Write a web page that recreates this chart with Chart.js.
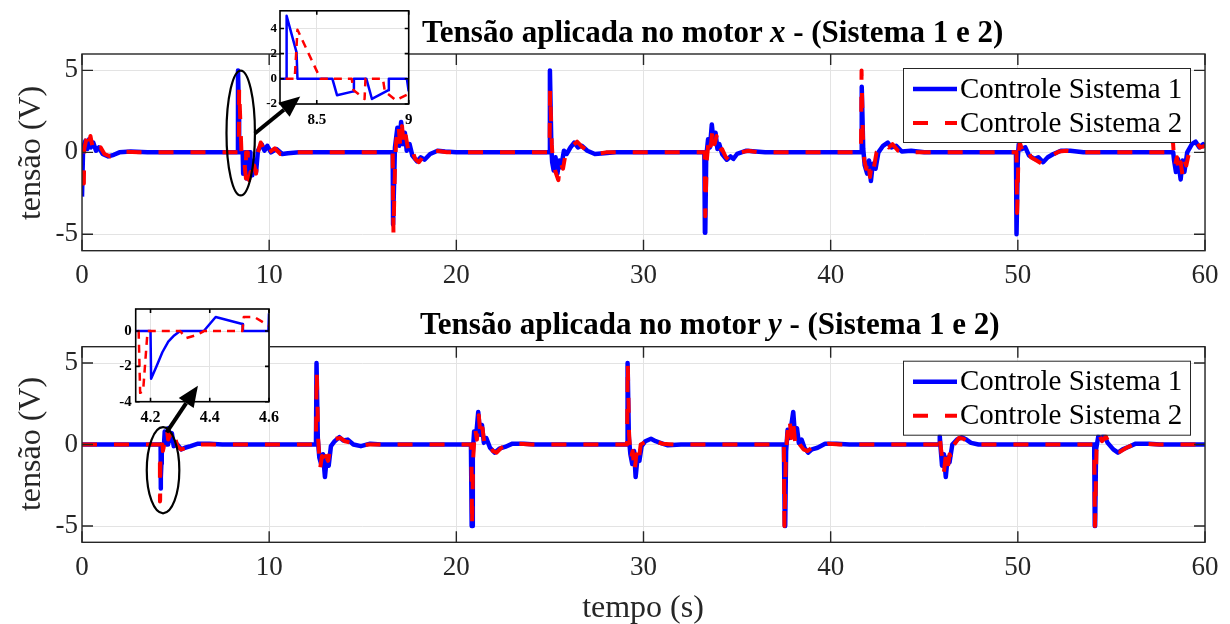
<!DOCTYPE html>
<html>
<head>
<meta charset="utf-8">
<script src="https://cdn.jsdelivr.net/npm/chart.js@4.4.0/dist/chart.umd.min.js"></script>
<style>
body { margin: 0; width: 1230px; height: 624px; background: #fff; position: relative; overflow: hidden;
       font-family: 'Liberation Serif', 'Times New Roman', serif; }
canvas { position: absolute; }
.title { position: absolute; font-weight: bold; font-size: 31px; line-height: 1; white-space: nowrap; color: #000; }
.ylab, .xlab { position: absolute; font-size: 32px; line-height: 1; white-space: nowrap; color: #262626; }
.ylab { transform: translate(-50%, -50%) rotate(-90deg); }
.xlab { transform: translate(-50%, -50%); }
</style>
</head>
<body>
<canvas id="topChart" width="1230" height="292" style="left:0;top:0"></canvas>
<canvas id="bottomChart" width="1230" height="332" style="left:0;top:292px"></canvas>
<canvas id="topZoom" width="186" height="136" style="left:236px;top:0"></canvas>
<canvas id="bottomZoom" width="194" height="136" style="left:92px;top:296px"></canvas>
<canvas id="arrows" width="1230" height="624" style="left:0;top:0;pointer-events:none"></canvas>

<div class="title" style="left:422px;top:16px">Tensão aplicada no motor <i>x</i> - (Sistema 1 e 2)</div>
<div class="title" style="left:420px;top:308px">Tensão aplicada no motor <i>y</i> - (Sistema 1 e 2)</div>
<div class="ylab" style="left:29px;top:153px">tensão (V)</div>
<div class="ylab" style="left:29px;top:444px">tensão (V)</div>
<div class="xlab" style="left:643px;top:606px">tempo (s)</div>

<script>
// tick values
const timeTicks = [0, 10, 20, 30, 40, 50, 60];
const voltTicks = [-5, 0, 5];
const zoomXTimeTicks = [8.5, 9];
const zoomXVoltTicks = [-2, 0, 2, 4];
const zoomYTimeTicks = [4.2, 4.4, 4.6];
const zoomYVoltTicks = [-4, -2, 0];
const seriesLabels = ['Controle Sistema 1', 'Controle Sistema 2'];

// motor x, system 1 control voltage [t (s), u (V)]
const motorX1 = [
  [0, -2.7], [0.04, -2.7], [0.06, 0.3], [0.18, 0.7], [0.28, 0.2], [0.38, 0.8], [0.48, 0.3], [0.6, 0.6], [0.75, 0.1],
  [0.9, 0.3], [1.1, -0.1], [1.4, -0.25], [1.7, -0.15], [2.0, 0], [2.6, 0.05], [3.5, 0],
  [8.333, 0], [8.336, 5], [8.39, 2.1], [8.395, 0], [8.585, 0], [8.61, -1.3], [8.70, -1.0], [8.702, 0], [8.77, 0],
  [8.80, -1.6], [8.89, -0.9], [8.892, 0], [8.99, 0], [9.0, -1.0], [9.1, -1.4], [9.2, -0.5], [9.3, -1.2], [9.4, 0.1],
  [9.6, 0.5], [9.75, 0.1], [9.9, 0.4], [10.1, 0], [10.4, 0.2], [10.7, -0.1], [11.0, -0.05], [11.6, 0],
  [16.6, 0], [16.62, -4.4], [16.66, -4.4], [16.72, 0.3], [16.85, 1.5], [16.95, 0.4], [17.05, 1.85], [17.15, 0.5],
  [17.25, 1.2], [17.35, 0.1], [17.5, 0.5], [17.65, -0.2], [17.9, -0.55], [18.1, -0.3], [18.3, -0.45], [18.6, -0.1],
  [19.0, 0.1], [19.4, 0.05], [20, 0],
  [24.98, 0], [25.0, 5.0], [25.08, 0.2], [25.12, -0.6], [25.2, -1.1], [25.3, -0.3], [25.4, -1.3], [25.5, -0.5],
  [25.6, -0.9], [25.75, 0.1], [25.9, -0.1], [26.1, 0.3], [26.3, 0.6], [26.5, 0.3], [26.7, 0.4], [27.0, 0.1],
  [27.4, -0.1], [27.9, -0.05], [28.5, 0],
  [33.25, 0], [33.28, -4.9], [33.3, -4.9], [33.35, -0.3], [33.45, 0.8], [33.55, 0.3], [33.65, 1.7], [33.75, 0.6],
  [33.85, 1.2], [33.95, 0.2], [34.05, 0.5], [34.2, -0.1], [34.45, -0.45], [34.65, -0.25], [34.8, -0.4], [35.0, -0.1],
  [35.5, 0.1], [36, 0.05], [36.5, 0],
  [41.63, 0], [41.66, 4.0], [41.74, 0.2], [41.82, -0.8], [41.95, -1.3], [42.05, -0.5], [42.15, -1.75], [42.25, -0.7],
  [42.4, -1.0], [42.55, 0], [42.8, 0.4], [43.05, 0.6], [43.25, 0.3], [43.5, 0.4], [43.8, 0.05], [44.3, 0.1], [45, 0],
  [49.9, 0], [49.93, -5.0], [49.95, -5.0], [50.0, -0.3], [50.05, 0.5], [50.2, 0.2], [50.4, 0.3], [50.6, -0.2],
  [50.9, -0.4], [51.1, -0.3], [51.35, -0.6], [51.6, -0.3], [51.9, -0.1], [52.3, 0.1], [52.8, 0.1], [53.5, 0],
  [58.3, 0], [58.35, -0.5], [58.45, -1.2], [58.55, -0.4], [58.7, -1.65], [58.8, -0.5], [58.9, -1.2], [59.05, 0],
  [59.3, 0.5], [59.5, 0.65], [59.7, 0.3], [59.9, 0.5], [60, 0.3]
];

// motor x, system 2
const motorX2 = [
  [0, -1.9], [0.1, -1.9], [0.12, 0.2], [0.25, 0.9], [0.35, 0.3], [0.45, 1.0], [0.55, 0.4], [0.7, 0.6], [0.85, 0.1],
  [1.0, 0.3], [1.2, -0.1], [1.5, -0.25], [1.8, -0.1], [2.2, 0.05], [3, 0],
  [8.38, 0], [8.395, 3.9], [8.52, 0], [8.69, 0], [8.70, -0.9], [8.76, -1.6], [8.765, 0], [8.86, 0], [8.87, -1.0],
  [8.93, -1.7], [9.0, -1.2], [9.1, -1.6], [9.2, -0.8], [9.3, -1.3], [9.4, 0], [9.55, 0.6], [9.7, 0.2], [9.85, 0.5],
  [10.0, 0], [10.3, 0.25], [10.6, -0.1], [11, 0],
  [16.6, 0], [16.64, -4.9], [16.72, -1], [16.78, 0.6], [16.9, 1.7], [17.0, 0.5], [17.1, 1.6], [17.2, 0.3], [17.3, 1.0],
  [17.45, 0], [17.6, 0.3], [17.8, -0.4], [18.0, -0.6], [18.2, -0.3], [18.5, -0.3], [18.9, 0.1], [19.5, 0],
  [24.98, 0], [25.01, 3.8], [25.1, 0.5], [25.15, -0.4], [25.3, -1.2], [25.45, -1.7], [25.55, -0.6], [25.7, -1.0],
  [25.85, 0], [26.2, 0.4], [26.45, 0.65], [26.7, 0.35], [27.0, 0.1], [27.5, -0.1], [28, 0],
  [33.27, 0], [33.3, -3.9], [33.38, -0.5], [33.5, 1.0], [33.6, 0.4], [33.7, 1.5], [33.8, 0.5], [33.9, 1.0], [34.0, 0],
  [34.2, 0.2], [34.4, -0.3], [34.6, -0.5], [34.85, -0.2], [35.2, 0], [35.6, 0.1], [36.2, 0],
  [41.62, 0], [41.65, 5.0], [41.72, 1.0], [41.8, -0.5], [41.9, -1.0], [42.0, -0.4], [42.1, -1.5], [42.2, -0.6],
  [42.3, -1.0], [42.45, 0], [42.7, 0.3], [42.9, 0.55], [43.1, 0.3], [43.3, 0.5], [43.6, 0.1], [44.0, -0.05], [44.5, 0],
  [49.93, 0], [49.96, -3.7], [50.03, -0.4], [50.1, 0.6], [50.25, 0.1], [50.45, 0.4], [50.7, -0.3], [51.0, -0.5],
  [51.3, -0.7], [51.55, -0.35], [51.8, -0.2], [52.2, 0.05], [52.6, 0.1], [53.2, 0],
  [58.25, 0], [58.28, 0.8], [58.32, 0.1], [58.4, -0.8], [58.5, -0.3], [58.6, -1.3], [58.7, -0.6], [58.8, -1.4],
  [58.9, -0.5], [59.0, -0.8], [59.15, 0], [59.35, 0.4], [59.55, 0.6], [59.75, 0.3], [60, 0.4]
];

// motor y, system 1
const motorY1 = [
  [0, 0], [4.2, 0], [4.202, -2.7], [4.22, -2.0], [4.24, -1.2], [4.26, -0.6], [4.28, -0.25], [4.30, 0], [4.38, 0],
  [4.42, 0.8], [4.51, 0.4], [4.512, 0], [4.598, 0], [4.60, 1.0], [4.7, 0.2], [4.8, 0.7], [4.9, -0.1], [5.1, 0],
  [5.3, -0.3], [5.5, -0.2], [5.8, -0.1], [6.2, 0.05], [6.8, 0.05], [7.5, 0],
  [12.5, 0], [12.53, 5.0], [12.6, 0.3], [12.68, -0.8], [12.78, -1.2], [12.88, -0.6], [12.98, -2.0], [13.08, -0.8],
  [13.18, -1.3], [13.3, -0.1], [13.5, 0.2], [13.75, 0.45], [13.95, 0.25], [14.2, 0.3], [14.5, 0], [14.9, -0.1],
  [15.4, 0.05], [16, 0],
  [20.78, 0], [20.82, -5.0], [20.84, -5.0], [20.88, -0.5], [20.95, 0.8], [21.05, 0.4], [21.17, 2.0], [21.27, 0.6],
  [21.37, 1.2], [21.47, 0.1], [21.6, 0.4], [21.8, -0.2], [22.05, -0.5], [22.3, -0.25], [22.6, -0.15], [23.0, 0.05],
  [23.6, 0.05], [24.2, 0],
  [29.12, 0], [29.15, 5.0], [29.22, 0.4], [29.3, -0.6], [29.4, -1.2], [29.5, -0.4], [29.58, -2.0], [29.68, -0.8],
  [29.78, -1.0], [29.9, -0.1], [30.1, 0.2], [30.4, 0.35], [30.65, 0.2], [30.9, 0.1], [31.3, -0.05], [32, 0],
  [37.5, 0], [37.55, -5.0], [37.57, -5.0], [37.62, -0.4], [37.7, 0.9], [37.8, 0.4], [38.0, 2.0], [38.1, 0.5],
  [38.2, 1.0], [38.3, 0.1], [38.45, 0.3], [38.6, -0.2], [38.8, -0.5], [39.0, -0.3], [39.3, -0.2], [39.7, 0.05],
  [40.3, 0.05], [41, 0],
  [45.8, 0], [45.83, 0.5], [45.88, -0.3], [45.95, -1.3], [46.05, -0.6], [46.15, -2.0], [46.25, -0.8], [46.35, -1.1],
  [46.5, 0], [46.75, 0.3], [47.0, 0.45], [47.25, 0.3], [47.5, 0.1], [47.9, 0],
  [54.08, 0], [54.11, -5.0], [54.13, -5.0], [54.18, -0.3], [54.3, 0.5], [54.47, 0.3], [54.6, 0.6], [54.8, 0.1],
  [55.1, -0.3], [55.35, -0.5], [55.6, -0.3], [55.9, -0.15], [56.3, 0.05], [57, 0.05], [57.6, 0], [60, 0]
];

// motor y, system 2
const motorY2 = [
  [0, 0], [4.16, 0], [4.165, -3.5], [4.175, -3.4], [4.19, 0], [4.30, 0], [4.32, -0.4], [4.36, -0.2], [4.38, 0],
  [4.51, 0], [4.515, 0.8], [4.55, 0.8], [4.60, 0.3], [4.7, 0.6], [4.8, 0.1], [4.95, 0.5], [5.1, -0.1], [5.3, -0.3],
  [5.6, -0.2], [6.0, 0], [7, 0],
  [12.5, 0], [12.54, 4.5], [12.62, 0.3], [12.72, -1.5], [12.82, -0.7], [12.92, -1.4], [13.02, -0.7], [13.15, -1.0],
  [13.3, 0], [13.55, 0.35], [13.8, 0.4], [14.05, 0.2], [14.4, 0.1], [14.8, -0.1], [15.3, 0],
  [20.8, 0], [20.84, -5.0], [20.9, -0.8], [21.0, 1.0], [21.1, 0.3], [21.2, 1.8], [21.3, 0.4], [21.4, 1.0], [21.5, 0],
  [21.7, 0.2], [21.95, -0.4], [22.15, -0.5], [22.4, -0.2], [22.8, 0], [23.3, 0.05], [24, 0],
  [29.12, 0], [29.16, 5.0], [29.23, 0.6], [29.32, -0.9], [29.42, -0.4], [29.52, -1.7], [29.62, -0.6], [29.72, -1.2],
  [29.85, 0], [30.1, 0.15], [30.35, 0.4], [30.6, 0.2], [31, 0.05], [31.6, 0],
  [37.5, 0], [37.53, -5.0], [37.6, -0.8], [37.68, 0.6], [37.8, 1.6], [37.9, 0.4], [38.0, 1.3], [38.1, 0.2],
  [38.2, 0.6], [38.35, 0], [38.55, -0.3], [38.75, -0.4], [39.0, -0.2], [39.4, -0.1], [39.9, 0.05], [40.5, 0],
  [45.8, 0], [45.82, 0.6], [45.86, 0.1], [45.95, -0.8], [46.05, -1.7], [46.15, -0.7], [46.25, -1.5], [46.35, -0.6],
  [46.45, -0.9], [46.6, 0], [46.85, 0.4], [47.1, 0.35], [47.35, 0.15], [47.8, 0],
  [54.08, 0], [54.12, -5.0], [54.2, -0.4], [54.35, 0.6], [54.5, 0.2], [54.7, 0.5], [54.9, 0], [55.2, -0.4],
  [55.45, -0.45], [55.8, -0.2], [56.2, 0], [56.8, 0.05], [57.5, 0], [60, 0]
];

const SERIF = "'Liberation Serif', 'Times New Roman', serif";
const toPoints = arr => arr.map(p => ({ x: p[0], y: p[1] }));
const fixedTicks = list => scale => { scale.ticks = list.map(v => ({ value: v })); };

// --- axes box with inward tick marks (matlab look) ---
const framePlugin = {
  id: 'frame',
  beforeDraw(chart, args, o) {
    if (!o.fill) return;
    const a = chart.chartArea;
    chart.ctx.save();
    chart.ctx.fillStyle = '#fff';
    chart.ctx.fillRect(a.left, a.top, a.width, a.height);
    chart.ctx.restore();
  },
  afterDatasetsDraw(chart, args, o) {
    const { ctx, chartArea: a, scales: { x, y } } = chart;
    ctx.save();
    ctx.strokeStyle = o.color;
    ctx.lineWidth = o.width;
    ctx.beginPath();
    x.ticks.forEach(t => {
      const px = x.getPixelForValue(t.value);
      ctx.moveTo(px, a.bottom); ctx.lineTo(px, a.bottom - o.tick);
      ctx.moveTo(px, a.top); ctx.lineTo(px, a.top + o.tick);
    });
    y.ticks.forEach(t => {
      const py = y.getPixelForValue(t.value);
      ctx.moveTo(a.left, py); ctx.lineTo(a.left + o.tick, py);
      ctx.moveTo(a.right, py); ctx.lineTo(a.right - o.tick, py);
    });
    ctx.stroke();
    ctx.strokeRect(a.left, a.top, a.width, a.height);
    ctx.restore();
  }
};

// --- legend box + zoom ellipse ---
const notesPlugin = {
  id: 'notes',
  afterDraw(chart, args, o) {
    const { ctx, chartArea: a, scales: { x, y } } = chart;
    if (o.ellipse) {
      const e = o.ellipse;
      const cx = x.getPixelForValue(e.t), cy = y.getPixelForValue(e.v);
      const rx = Math.abs(x.getPixelForValue(e.t + e.dt) - cx);
      const ry = Math.abs(y.getPixelForValue(e.v + e.dv) - cy);
      ctx.save();
      ctx.strokeStyle = '#000';
      ctx.lineWidth = 2.2;
      ctx.beginPath();
      ctx.ellipse(cx, cy, rx, ry, 0, 0, Math.PI * 2);
      ctx.stroke();
      ctx.restore();
    }
    if (o.legend) {
      const L = o.legend;
      const left = a.right - L.right - L.width, top = a.top + L.top;
      ctx.save();
      ctx.fillStyle = '#fff';
      ctx.fillRect(left, top, L.width, L.height);
      ctx.strokeStyle = '#262626';
      ctx.lineWidth = 1;
      ctx.strokeRect(left + 0.5, top + 0.5, L.width, L.height);
      ctx.font = L.font;
      ctx.textBaseline = 'middle';
      chart.data.datasets.forEach((ds, i) => {
        const yy = top + L.rows[i];
        ctx.strokeStyle = ds.borderColor;
        ctx.lineWidth = ds.borderWidth;
        ctx.setLineDash(ds.borderDash || []);
        ctx.beginPath();
        ctx.moveTo(left + 10, yy);
        ctx.lineTo(left + 54, yy);
        ctx.stroke();
        ctx.setLineDash([]);
        ctx.fillStyle = '#000';
        ctx.fillText(ds.label, left + 57, yy + 1);
      });
      ctx.restore();
    }
  }
};

function makeChart(id, sys1, sys2, cfg) {
  return new Chart(document.getElementById(id), {
    type: 'line',
    data: {
      datasets: [
        { label: seriesLabels[0], data: toPoints(sys1), borderColor: '#0000ff', borderWidth: cfg.lw1, order: 2 },
        { label: seriesLabels[1], data: toPoints(sys2), borderColor: '#ff0000', borderWidth: cfg.lw2,
          borderDash: cfg.dash, order: 1 }
      ]
    },
    options: {
      responsive: false,
      animation: false,
      devicePixelRatio: 1,
      layout: { padding: cfg.padding },
      elements: {
        point: { radius: 0 },
        line: { tension: 0, fill: false, borderJoinStyle: 'round', borderCapStyle: 'butt' }
      },
      plugins: {
        legend: { display: false },
        tooltip: { enabled: false },
        frame: cfg.frame,
        notes: cfg.notes || {}
      },
      scales: {
        x: {
          type: 'linear', min: cfg.xr[0], max: cfg.xr[1],
          afterBuildTicks: fixedTicks(cfg.xt),
          afterFit: s => { s.height = cfg.xh; },
          grid: { color: '#e3e3e3', lineWidth: 1, drawTicks: false },
          border: { display: false },
          ticks: { font: cfg.xfont, color: cfg.tickColor, padding: cfg.xpad, maxRotation: 0, autoSkip: false,
                   callback: v => String(v) }
        },
        y: {
          type: 'linear', min: cfg.yr[0], max: cfg.yr[1],
          afterBuildTicks: fixedTicks(cfg.yt),
          afterFit: s => { s.width = cfg.yw; },
          grid: { color: '#e3e3e3', lineWidth: 1, drawTicks: false },
          border: { display: false },
          ticks: { font: cfg.yfont, color: cfg.tickColor, padding: cfg.ypad, autoSkip: false,
                   callback: v => String(v) }
        }
      }
    },
    plugins: [framePlugin, notesPlugin]
  });
}

const mainFont = { family: SERIF, size: 27 };
const legendCfg = { right: 15, top: 14, width: 287, height: 74, rows: [21, 55], font: '29px ' + SERIF };
const mainFrame = { color: '#262626', width: 1.4, tick: 11 };

const topChart = makeChart('topChart', motorX1, motorX2, {
  lw1: 4.5, lw2: 4, dash: [15, 17],
  padding: { left: 0, right: 25, top: 54, bottom: 0 },
  xr: [0, 60], yr: [-6, 6], xt: timeTicks, yt: voltTicks, xh: 41.3, yw: 82,
  xfont: mainFont, yfont: mainFont, tickColor: '#262626', xpad: 9, ypad: 4,
  frame: mainFrame,
  notes: { legend: legendCfg, ellipse: { t: 8.48, v: 1.18, dt: 0.76, dv: 3.81 } }
});

const bottomChart = makeChart('bottomChart', motorY1, motorY2, {
  lw1: 4.5, lw2: 4, dash: [15, 17],
  padding: { left: 0, right: 25, top: 54.7, bottom: 0 },
  xr: [0, 60], yr: [-6, 6], xt: timeTicks, yt: voltTicks, xh: 81.7, yw: 82,
  xfont: mainFont, yfont: mainFont, tickColor: '#262626', xpad: 9, ypad: 4,
  frame: mainFrame,
  notes: { legend: legendCfg, ellipse: { t: 4.33, v: -1.58, dt: 0.87, dv: 2.64 } }
});

// zoomed views
const topZoom = makeChart('topZoom', motorX1, motorX2, {
  lw1: 2.5, lw2: 2.5, dash: [8, 6],
  padding: { left: 0, right: 13.3, top: 9, bottom: 0 },
  xr: [8.3, 9.0], yr: [-2, 5.4], xt: zoomXTimeTicks, yt: zoomXVoltTicks, xh: 32, yw: 44,
  xfont: { family: SERIF, size: 15, weight: 'bold' }, yfont: { family: SERIF, size: 13, weight: 'bold' },
  tickColor: '#000', xpad: 7, ypad: 3,
  frame: { color: '#000', width: 1.6, tick: 4, fill: true }
});

const bottomZoom = makeChart('bottomZoom', motorY1, motorY2, {
  lw1: 2.5, lw2: 2.5, dash: [8, 6],
  padding: { left: 0, right: 13.7, top: 9, bottom: 0 },
  xr: [4.15, 4.6], yr: [-4, 1.25], xt: zoomYTimeTicks, yt: zoomYVoltTicks, xh: 30.3, yw: 43.7,
  xfont: { family: SERIF, size: 16, weight: 'bold' }, yfont: { family: SERIF, size: 15, weight: 'bold' },
  tickColor: '#000', xpad: 7, ypad: 4,
  frame: { color: '#000', width: 1.6, tick: 4, fill: true }
});

// arrows from the ellipses to the zoomed views
function pagePoint(chart, t, v) {
  const c = chart.canvas;
  return [c.offsetLeft + chart.scales.x.getPixelForValue(t), c.offsetTop + chart.scales.y.getPixelForValue(v)];
}

function drawArrow(ctx, from, to) {
  const ang = Math.atan2(to[1] - from[1], to[0] - from[0]);
  const head = 21, half = 9;
  const bx = to[0] - head * Math.cos(ang), by = to[1] - head * Math.sin(ang);
  ctx.lineWidth = 4;
  ctx.beginPath();
  ctx.moveTo(from[0], from[1]);
  ctx.lineTo(bx, by);
  ctx.stroke();
  ctx.beginPath();
  ctx.moveTo(to[0], to[1]);
  ctx.lineTo(bx - half * Math.sin(ang), by + half * Math.cos(ang));
  ctx.lineTo(bx + half * Math.sin(ang), by - half * Math.cos(ang));
  ctx.closePath();
  ctx.fill();
}

const actx = document.getElementById('arrows').getContext('2d');
actx.strokeStyle = '#000';
actx.fillStyle = '#000';
drawArrow(actx, pagePoint(topChart, 9.23, 1.15), pagePoint(topZoom, 8.41, -1.4));
drawArrow(actx, pagePoint(bottomChart, 4.52, 0.75), pagePoint(bottomZoom, 4.36, -3.09));
</script>
</body>
</html>
